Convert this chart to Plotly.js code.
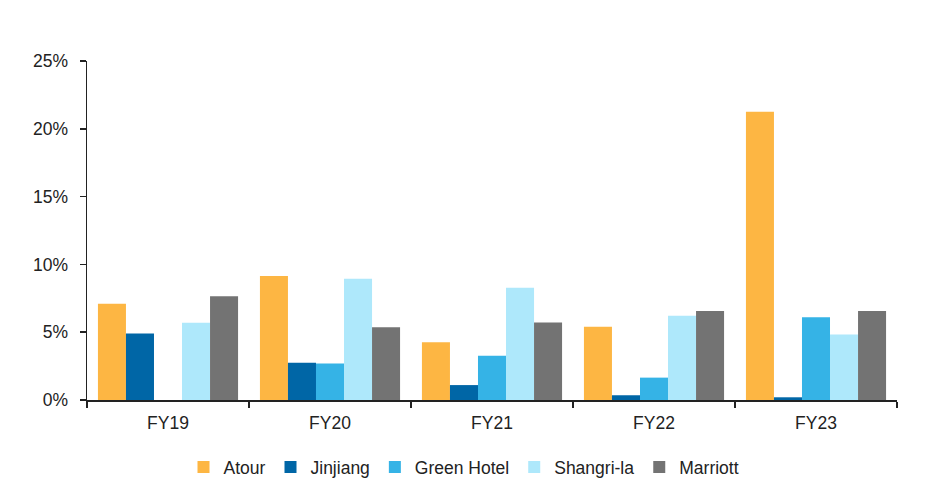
<!DOCTYPE html>
<html>
<head>
<meta charset="utf-8">
<script src="https://cdn.plot.ly/plotly-3.0.1.min.js"></script>
<style>html,body{margin:0;padding:0;background:#fff;}#chart{width:928px;height:485px;}</style>
</head>
<body>
<div id="chart"></div>
<script>
const categories = ["FY19", "FY20", "FY21", "FY22", "FY23"];
const atour = [7.1, 9.15, 4.25, 5.4, 21.25];
const jinjiang = [4.9, 2.75, 1.1, 0.35, 0.2];
const greenHotel = [null, 2.7, 3.27, 1.65, 6.1];
const shangrila = [5.7, 8.95, 8.27, 6.22, 4.83];
const marriott = [7.65, 5.37, 5.72, 6.57, 6.57];
const yTicks = [0, 5, 10, 15, 20, 25];
const yTickLabels = ["0%", "5%", "10%", "15%", "20%", "25%"];

const seriesNames = ["Atour", "Jinjiang", "Green Hotel", "Shangri-la", "Marriott"];
const seriesValues = [atour, jinjiang, greenHotel, shangrila, marriott];
const seriesColors = ["#FDB643", "#0066A6", "#35B3E6", "#AEE8FB", "#737373"];

const data = seriesNames.map((n, i) => ({
  type: "bar", name: n, x: categories, y: seriesValues[i],
  marker: {color: seriesColors[i], line: {width: 0}}
}));

const layout = {
  width: 928, height: 485,
  margin: {l: 87, r: 31, t: 61, b: 85, autoexpand: false},
  paper_bgcolor: "#fff", plot_bgcolor: "#fff",
  font: {family: "Liberation Sans, Arial, sans-serif", size: 17.5, color: "#222"},
  barmode: "group", bargap: 0.135, bargroupgap: 0,
  xaxis: {
    showgrid: false, showline: true, linecolor: "#222", linewidth: 1.5,
    ticks: "outside", tickson: "boundaries", ticklen: 6, tickcolor: "#222", tickwidth: 1.5,
    tickfont: {size: 17.5, color: "#222"}, zeroline: false, ticklabelstandoff: 6
  },
  yaxis: {
    range: [0, 25], showgrid: false, showline: true, linecolor: "#222", linewidth: 1.5,
    ticks: "outside", ticklen: 6, tickcolor: "#222", tickwidth: 1.5,
    tickvals: yTicks, ticktext: yTickLabels, tickfont: {size: 17.5, color: "#222"},
    zeroline: false, ticklabelstandoff: 8
  },
  legend: {
    orientation: "h", x: 0.5, xanchor: "center", xref: "container",
    y: 0.037, yanchor: "middle", yref: "container",
    font: {size: 17.5, color: "#222"}, itemwidth: 30, tracegroupgap: 0
  },
  showlegend: true
};

Plotly.newPlot("chart", data, layout, {displayModeBar: false, staticPlot: true});
</script>
</body>
</html>
